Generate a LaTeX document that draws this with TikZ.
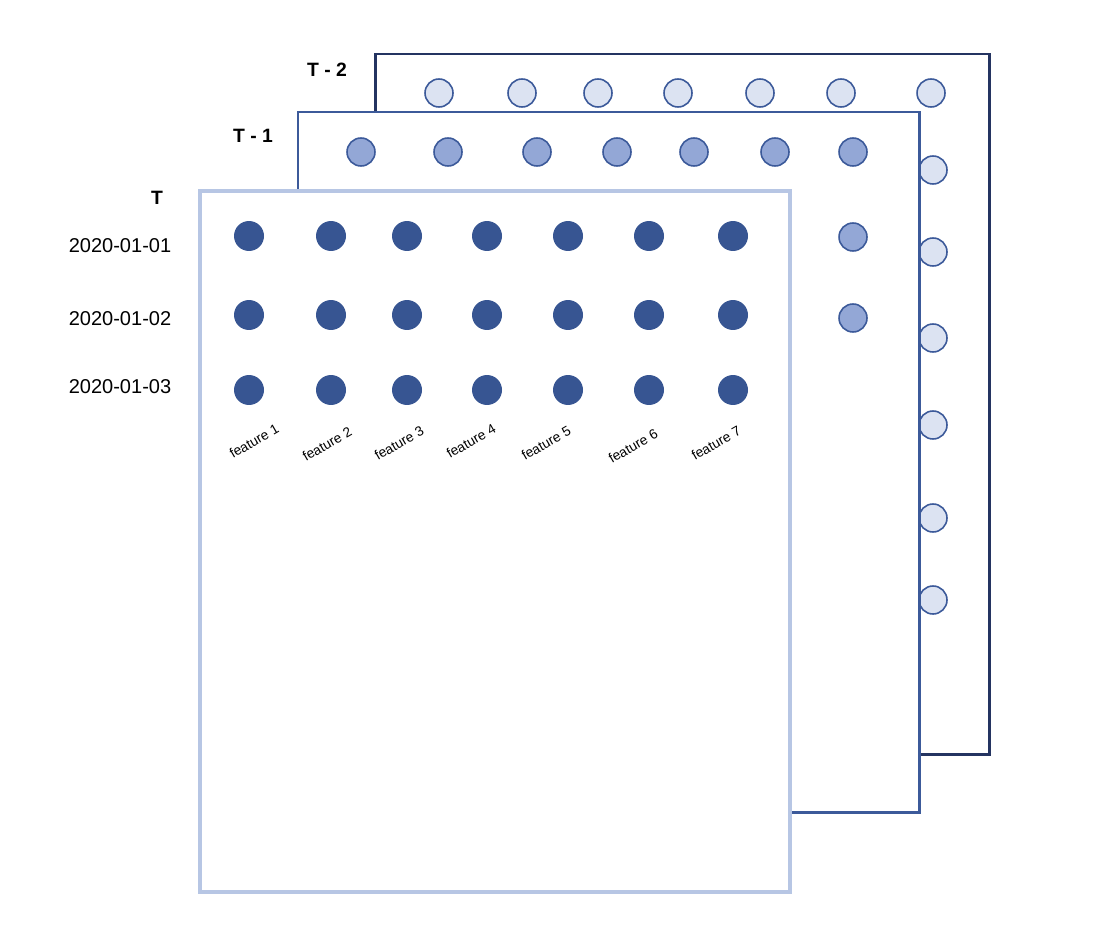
\documentclass[tikz,border=0pt]{standalone}
\usepackage{fontspec}
\setmainfont{Liberation Sans}
\usepackage{tikz}
\usetikzlibrary{positioning}
\definecolor{backline}{HTML}{243461}
\definecolor{midline}{HTML}{3C5A9A}
\definecolor{frontline}{HTML}{B7C6E4}
\definecolor{backfill}{HTML}{DCE3F2}
\definecolor{midfill}{HTML}{93A7D6}
\definecolor{frontfill}{HTML}{375592}
\tikzstyle{frame}=[fill=white,line width=1.7pt]
\tikzstyle{dot}=[circle,inner sep=0pt,minimum size=0.56cm]
\tikzstyle{backdot}=[dot,draw=midline,fill=backfill,line width=0.9pt]
\tikzstyle{middot}=[dot,draw=midline,fill=midfill,line width=0.9pt]
\tikzstyle{frontdot}=[dot,fill=frontfill,minimum size=0.6cm]

\begin{document}
\begin{tikzpicture}[x=0.02cm,y=-0.02cm]
\tikzstyle{layer}=[font=\fontsize{11}{13}\selectfont\bfseries]
\tikzstyle{date}=[font=\fontsize{11.4}{13}\selectfont]
\tikzstyle{feat}=[font=\fontsize{7.8}{9}\selectfont,rotate=30,inner sep=0pt]
\useasboundingbox (0,0) rectangle (1114,932);

% T - 2
\draw[frame,draw=backline] (375,54) rectangle (989,754);
\foreach \x [count=\i] in {439,522,598,678,760,841,931}
  \node[backdot] (b\i) at (\x,93) {};
\foreach \y [count=\i] in {170,252,338,425,518,600}
  \node[backdot] (bs\i) at (933,\y) {};

% T - 1
\draw[frame,draw=midline] (298,112) rectangle (919,812);
\foreach \x [count=\i] in {361,448,537,617,694,775,853}
  \node[middot] (m\i) at (\x,152) {};
\foreach \y [count=\i] in {237,318}
  \node[middot] (ms\i) at (853,\y) {};

% T
\draw[frame,draw=frontline,line width=2.8pt] (200,191) rectangle (790,892);
\foreach \y [count=\r] in {236,315,390}
  \foreach \x [count=\i] in {249,331,407,487,568,649,733}
    \node[frontdot] (f\r\i) at (\x,\y) {};

\node[layer] (lt) at (157,198) {T};
\node[layer] (lt1) at (253,136) {T - 1};
\node[layer] (lt2) at (327,70) {T - 2};

\node[date] (d1) at (120,246) {2020-01-01};
\node[date] (d2) at (120,319) {2020-01-02};
\node[date] (d3) at (120,387) {2020-01-03};

\foreach \x/\y [count=\i] in {254/441,327/444,399/443,471/441,546/443,633/446,716/443}
  \node[feat] (ft\i) at (\x,\y) {feature \i};
\end{tikzpicture}
\end{document}
